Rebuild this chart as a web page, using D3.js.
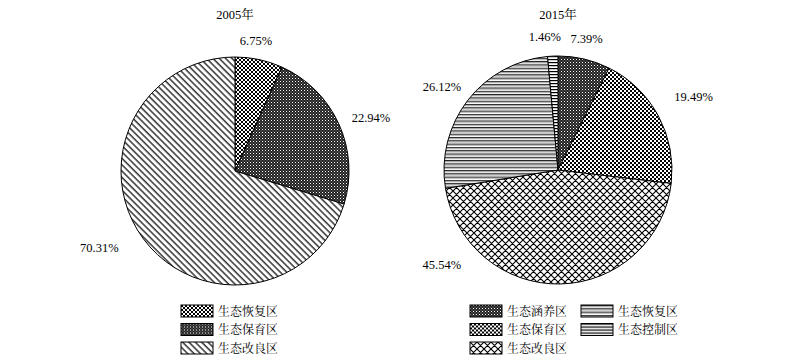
<!DOCTYPE html>
<html lang="zh">
<head>
<meta charset="UTF-8">
<script src="https://cdn.jsdelivr.net/npm/d3@7/dist/d3.min.js"></script>
<style>
    body { margin: 0; background: #fff; }
    svg text { font-family: "Liberation Serif", "Noto Serif CJK SC", "Noto Sans CJK SC", serif; fill: #000; }
</style>
</head>
<body>
<svg width="800" height="362"></svg>
<script>
    // 2005
    var names2005 = ["生态恢复区", "生态保育区", "生态改良区"];
    var values2005 = [6.75, 22.94, 70.31];
    var fills2005 = ["checkMed", "checkFine", "diag"];

    // 2015
    var names2015 = ["生态涵养区", "生态保育区", "生态改良区", "生态恢复区", "生态控制区"];
    var values2015 = [7.39, 19.49, 45.54, 26.12, 1.46];
    var fills2015 = ["checkFine", "checkMed", "diamond", "hGray", "hBlack"];

    var legend2015 = ["生态涵养区", "生态保育区", "生态改良区", "生态恢复区", "生态控制区"];

    var svg = d3.select("svg");
    var defs = svg.append("defs");

    // patterns
    var p = defs.append("pattern").attr("id", "checkMed")
        .attr("width", 4).attr("height", 4).attr("patternUnits", "userSpaceOnUse");
    p.append("rect").attr("width", 4).attr("height", 4).attr("fill", "#fff");
    p.append("rect").attr("width", 2).attr("height", 2).attr("fill", "#000");
    p.append("rect").attr("x", 2).attr("y", 2).attr("width", 2).attr("height", 2).attr("fill", "#000");

    p = defs.append("pattern").attr("id", "checkFine")
        .attr("width", 3).attr("height", 3).attr("patternUnits", "userSpaceOnUse");
    p.append("rect").attr("width", 3).attr("height", 3).attr("fill", "#222");
    p.append("rect").attr("width", 1).attr("height", 1).attr("fill", "#fff");
    p.append("rect").attr("x", 1.5).attr("y", 1.5).attr("width", 1).attr("height", 1).attr("fill", "#999");

    p = defs.append("pattern").attr("id", "diag")
        .attr("width", 4.5).attr("height", 4.5).attr("patternUnits", "userSpaceOnUse")
        .attr("patternTransform", "rotate(-45)");
    p.append("rect").attr("width", 4.5).attr("height", 4.5).attr("fill", "#fff");
    p.append("line").attr("x1", 1).attr("x2", 1).attr("y1", 0).attr("y2", 4.5)
        .attr("stroke", "#000").attr("stroke-width", 1.2);

    p = defs.append("pattern").attr("id", "diamond")
        .attr("width", 7).attr("height", 7).attr("patternUnits", "userSpaceOnUse");
    p.append("rect").attr("width", 7).attr("height", 7).attr("fill", "#fff");
    p.append("path").attr("d", "M0,0L7,7M7,0L0,7M-1,6L1,8M6,-1L8,1M-1,1L1,-1M6,8L8,6")
        .attr("stroke", "#000").attr("stroke-width", 1.1);

    p = defs.append("pattern").attr("id", "hGray")
        .attr("width", 4).attr("height", 3.3).attr("patternUnits", "userSpaceOnUse");
    p.append("rect").attr("width", 4).attr("height", 3.3).attr("fill", "#fff");
    p.append("rect").attr("width", 4).attr("height", 1.1).attr("fill", "#222");
    p.append("rect").attr("y", 1.1).attr("width", 4).attr("height", 1).attr("fill", "#999");

    p = defs.append("pattern").attr("id", "hBlack")
        .attr("width", 4).attr("height", 3).attr("patternUnits", "userSpaceOnUse");
    p.append("rect").attr("width", 4).attr("height", 3).attr("fill", "#fff");
    p.append("rect").attr("width", 4).attr("height", 1.2).attr("fill", "#000");

    var radius = 114;
    var pie = d3.pie().sort(null).value(function (d) { return d.v; });
    var arc = d3.arc().innerRadius(0).outerRadius(radius);

    function drawPie(cx, cy, title, names, values, fills, labelR, labelShift) {
        var g = svg.append("g").attr("transform", "translate(" + cx + "," + cy + ")");
        var rows = values.map(function (v, i) { return {v: v, name: names[i], fill: fills[i]}; });
        var arcs = pie(rows);

        g.selectAll("path.slice")
            .data(arcs)
            .enter()
            .append("path")
            .attr("class", "slice")
            .attr("d", arc)
            .attr("fill", function (d) { return "url(#" + d.data.fill + ")"; })
            .attr("stroke", "#000")
            .attr("stroke-width", 1);

        function labelAngle(d, i) {
            return (d.startAngle + d.endAngle) / 2 + labelShift[i] * Math.PI / 180;
        }

        g.selectAll("text.lbl")
            .data(arcs)
            .enter()
            .append("text")
            .attr("class", "lbl")
            .attr("font-size", 12.5)
            .attr("text-anchor", "middle")
            .attr("dominant-baseline", "central")
            .attr("x", function (d, i) { return Math.sin(labelAngle(d, i)) * labelR[i]; })
            .attr("y", function (d, i) { return -Math.cos(labelAngle(d, i)) * labelR[i]; })
            .text(function (d) { return d.data.v.toFixed(2) + "%"; });

        svg.append("text")
            .attr("x", cx).attr("y", 15)
            .attr("font-size", 12.5)
            .attr("text-anchor", "middle")
            .attr("dominant-baseline", "central")
            .text(title);
    }

    drawPie(235, 171, "2005年", names2005, values2005, fills2005, [132, 146, 156], [-3, 3, 7]);
    drawPie(558, 170, "2015年", names2015, values2015, fills2015,
        [134, 154, 150, 143, 134], [-1, 0, 52, -2, -3]);

    function legend(x, y, names, fillOf) {
        var g = svg.append("g").attr("transform", "translate(" + x + "," + y + ")");
        var item = g.selectAll("g").data(names).enter().append("g")
            .attr("transform", function (d, i) { return "translate(0," + i * 18.5 + ")"; });
        item.append("rect")
            .attr("width", 32).attr("height", 12)
            .attr("fill", function (d) { return "url(#" + fillOf(d) + ")"; })
            .attr("stroke", "#000").attr("stroke-width", 1);
        item.append("text")
            .attr("x", 37).attr("y", 6.5)
            .attr("font-size", 12)
            .attr("dominant-baseline", "central")
            .text(function (d) { return d; });
    }

    legend(181, 305, names2005, function (d) { return fills2005[names2005.indexOf(d)]; });
    legend(470, 305, legend2015.slice(0, 3), function (d) { return fills2015[names2015.indexOf(d)]; });
    legend(581, 305, legend2015.slice(3), function (d) { return fills2015[names2015.indexOf(d)]; });
</script>
</body>
</html>
